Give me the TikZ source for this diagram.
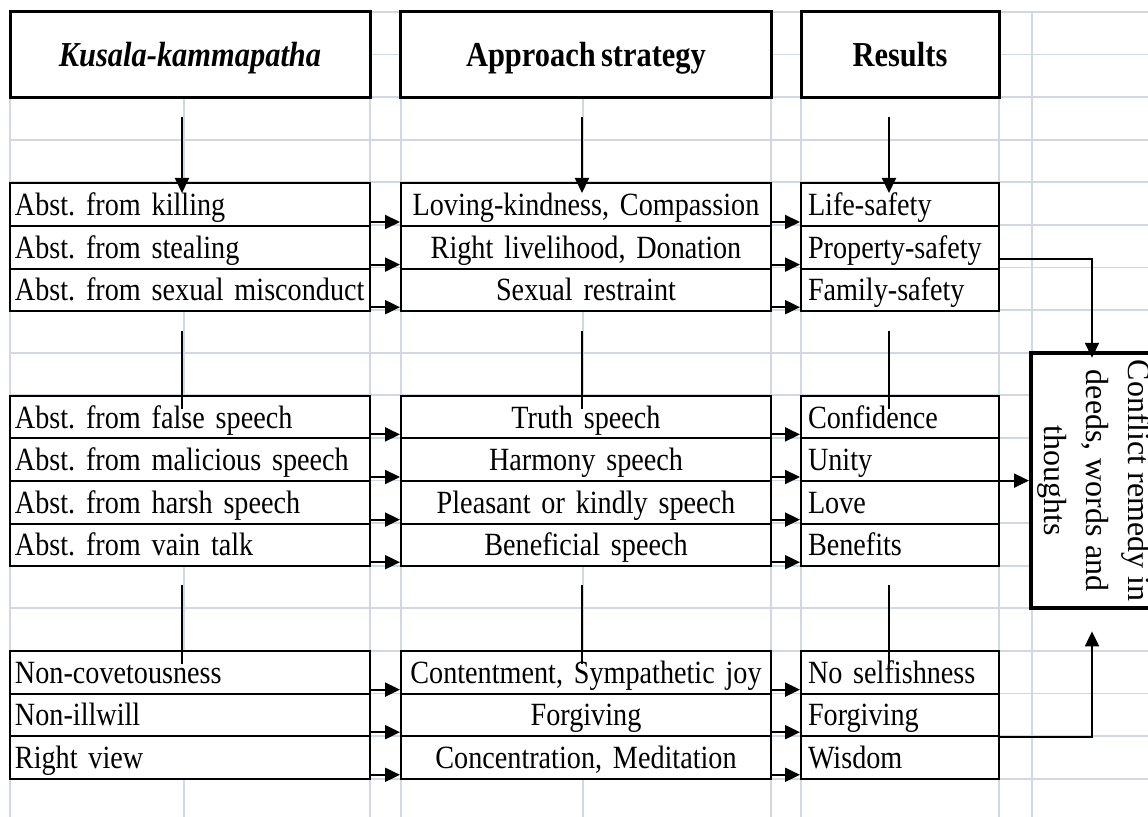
\documentclass[tikz,border=0pt]{standalone}
\usepackage{fontspec}
\setmainfont{Liberation Serif}[FakeStretch=0.87, WordSpace=0.7]
\newfontfamily\remfont{Liberation Serif}
\frenchspacing
\usetikzlibrary{arrows.meta}
\definecolor{gridblue}{HTML}{D0D7E5}

\tikzset{
  gridline/.style={gridblue, line width=0.9pt},
  headbox/.style={draw, fill=white, line width=1.5pt, minimum height=42.6pt, inner sep=0pt, text height=11.6pt, text depth=0pt, font=\fontsize{17.5pt}{21pt}\selectfont\bfseries},
  cell/.style={draw, fill=white, line width=1pt, minimum height=21.3pt, inner xsep=2.5pt, inner ysep=0pt, text height=11pt, text depth=0pt, font=\fontsize{16.2pt}{19pt}\selectfont},
  kcell/.style={cell, text width=175pt, align=left},
  acell/.style={cell, text width=180pt, align=center},
  rcell/.style={cell, inner xsep=3.5pt, text width=92pt, align=left},
  arr/.style={-{Triangle[length=7.5pt,width=7pt]}, line width=1pt},
  link/.style={line width=0.9pt},
}

\begin{document}
\begin{tikzpicture}[x=0.5pt, y=-0.5pt]
\useasboundingbox (0,0) rectangle (1148,817);
\clip (0,0) rectangle (1148,817);

%sheet rows
\draw[gridline] (10,12) -- (1148,12);
\draw[gridline] (10,54.6) -- (1148,54.6);
\draw[gridline] (10,97.2) -- (1148,97.2);
\draw[gridline] (10,139.8) -- (1148,139.8);
\draw[gridline] (10,182.4) -- (1148,182.4);
\draw[gridline] (10,225) -- (1148,225);
\draw[gridline] (10,267.6) -- (1148,267.6);
\draw[gridline] (10,310.2) -- (1148,310.2);
\draw[gridline] (10,352.8) -- (1148,352.8);
\draw[gridline] (10,395.4) -- (1148,395.4);
\draw[gridline] (10,438) -- (1148,438);
\draw[gridline] (10,480.6) -- (1148,480.6);
\draw[gridline] (10,523.2) -- (1148,523.2);
\draw[gridline] (10,565.8) -- (1148,565.8);
\draw[gridline] (10,608.4) -- (1148,608.4);
\draw[gridline] (10,651) -- (1148,651);
\draw[gridline] (10,693.6) -- (1148,693.6);
\draw[gridline] (10,736.2) -- (1148,736.2);
\draw[gridline] (10,778.8) -- (1148,778.8);

%sheet columns
\draw[gridline] (10,12) -- (10,817);
\draw[gridline] (184,12) -- (184,817);
\draw[gridline] (370,12) -- (370,817);
\draw[gridline] (401,12) -- (401,817);
\draw[gridline] (583,12) -- (583,817);
\draw[gridline] (771,12) -- (771,817);
\draw[gridline] (801,12) -- (801,817);
\draw[gridline] (999,12) -- (999,817);
\draw[gridline] (1032,12) -- (1032,817);

%headers
\node[headbox, minimum width=180pt] (hk) at (190,54.6) {\itshape Kusala-kammapatha};
\node[headbox, minimum width=185.5pt] (ha) at (586,54.6) {Approach strategy};
\node[headbox, minimum width=99pt] (hr) at (900,54.6) {Results};

%first group
\node[kcell] (kk1) at (190,204.7) {Abst. from killing};
\node[kcell] (kk2) at (190,247.3) {Abst. from stealing};
\node[kcell] (kk3) at (190,289.9) {Abst. from sexual misconduct};
\node[acell] (as1) at (586,204.7) {Loving-kindness, Compassion};
\node[acell] (as2) at (586,247.3) {Right livelihood, Donation};
\node[acell] (as3) at (586,289.9) {Sexual restraint};
\node[rcell] (rs1) at (900,204.7) {Life-safety};
\node[rcell] (rs2) at (900,247.3) {Property-safety};
\node[rcell] (rs3) at (900,289.9) {Family-safety};

%second group
\node[kcell] (kk4) at (190,417.1) {Abst. from false speech};
\node[kcell] (kk5) at (190,459.7) {Abst. from malicious speech};
\node[kcell] (kk6) at (190,502.3) {Abst. from harsh speech};
\node[kcell] (kk7) at (190,544.9) {Abst. from vain talk};
\node[acell] (as4) at (586,417.1) {Truth speech};
\node[acell] (as5) at (586,459.7) {Harmony speech};
\node[acell] (as6) at (586,502.3) {Pleasant or kindly speech};
\node[acell] (as7) at (586,544.9) {Beneficial speech};
\node[rcell] (rs4) at (900,417.1) {Confidence};
\node[rcell] (rs5) at (900,459.7) {Unity};
\node[rcell] (rs6) at (900,502.3) {Love};
\node[rcell] (rs7) at (900,544.9) {Benefits};

%third group
\node[kcell] (kk8) at (190,672.3) {Non-covetousness};
\node[kcell] (kk9) at (190,714.9) {Non-illwill};
\node[kcell] (kk10) at (190,757.5) {Right view};
\node[acell] (as8) at (586,672.3) {Contentment, Sympathetic joy};
\node[acell] (as9) at (586,714.9) {Forgiving};
\node[acell] (as10) at (586,757.5) {Concentration, Meditation};
\node[rcell] (rs8) at (900,672.3) {No selfishness};
\node[rcell] (rs9) at (900,714.9) {Forgiving};
\node[rcell] (rs10) at (900,757.5) {Wisdom};

%remedy box
\node[draw, fill=white, line width=2pt, minimum width=63pt, minimum height=127.8pt, inner sep=0pt] (rem) at (1094,480.6) {};
\node[rotate=-90, align=center, font=\remfont\fontsize{16pt}{21pt}\selectfont] (remtext) at (rem.center) {Conflict remedy in\\deeds, words and\\thoughts};

%down from headers
\draw[arr] ([xshift=-4pt,yshift=-9pt]hk.south) -- ([xshift=-4pt,yshift=-5.3pt]kk1.north);
\draw[arr] ([xshift=-2pt,yshift=-9pt]ha.south) -- ([xshift=-2pt,yshift=-5.3pt]as1.north);
\draw[arr] ([xshift=-5.5pt,yshift=-9pt]hr.south) -- ([xshift=-5.5pt,yshift=-5.3pt]rs1.north);

%between groups
\draw[link] ([xshift=-4pt,yshift=-9.5pt]kk3.south) -- ([xshift=-4pt,yshift=-7.3pt]kk4.north);
\draw[link] ([xshift=-2pt,yshift=-9.5pt]as3.south) -- ([xshift=-2pt,yshift=-7.3pt]as4.north);
\draw[link] ([xshift=-5.5pt,yshift=-9.5pt]rs3.south) -- ([xshift=-5.5pt,yshift=-7.3pt]rs4.north);
\draw[link] ([xshift=-4pt,yshift=-9pt]kk7.south) -- ([xshift=-4pt,yshift=-7pt]kk8.north);
\draw[link] ([xshift=-2pt,yshift=-9pt]as7.south) -- ([xshift=-2pt,yshift=-7pt]as8.north);
\draw[link] ([xshift=-5.5pt,yshift=-9pt]rs7.south) -- ([xshift=-5.5pt,yshift=-7pt]rs8.north);

%kammapatha to strategy
\draw[arr] ([yshift=2.5pt]kk1.south east) -- ([yshift=2.5pt]as1.south west);
\draw[arr] ([yshift=2.5pt]kk2.south east) -- ([yshift=2.5pt]as2.south west);
\draw[arr] ([yshift=2.5pt]kk3.south east) -- ([yshift=2.5pt]as3.south west);
\draw[arr] ([yshift=2.5pt]kk4.south east) -- ([yshift=2.5pt]as4.south west);
\draw[arr] ([yshift=2.5pt]kk5.south east) -- ([yshift=2.5pt]as5.south west);
\draw[arr] ([yshift=2.5pt]kk6.south east) -- ([yshift=2.5pt]as6.south west);
\draw[arr] ([yshift=2.5pt]kk7.south east) -- ([yshift=2.5pt]as7.south west);
\draw[arr] ([yshift=2.5pt]kk8.south east) -- ([yshift=2.5pt]as8.south west);
\draw[arr] ([yshift=2.5pt]kk9.south east) -- ([yshift=2.5pt]as9.south west);
\draw[arr] ([yshift=2.5pt]kk10.south east) -- ([yshift=2.5pt]as10.south west);

%strategy to results
\draw[arr] ([yshift=2.5pt]as1.south east) -- ([yshift=2.5pt]rs1.south west);
\draw[arr] ([yshift=2.5pt]as2.south east) -- ([yshift=2.5pt]rs2.south west);
\draw[arr] ([yshift=2.5pt]as3.south east) -- ([yshift=2.5pt]rs3.south west);
\draw[arr] ([yshift=2.5pt]as4.south east) -- ([yshift=2.5pt]rs4.south west);
\draw[arr] ([yshift=2.5pt]as5.south east) -- ([yshift=2.5pt]rs5.south west);
\draw[arr] ([yshift=2.5pt]as6.south east) -- ([yshift=2.5pt]rs6.south west);
\draw[arr] ([yshift=2.5pt]as7.south east) -- ([yshift=2.5pt]rs7.south west);
\draw[arr] ([yshift=2.5pt]as8.south east) -- ([yshift=2.5pt]rs8.south west);
\draw[arr] ([yshift=2.5pt]as9.south east) -- ([yshift=2.5pt]rs9.south west);
\draw[arr] ([yshift=2.5pt]as10.south east) -- ([yshift=2.5pt]rs10.south west);

%results to remedy
\draw[arr] ([yshift=5.5pt]rs2.south east) -| ([xshift=-1pt,yshift=-3.5pt]rem.north);
\draw[arr] (rs5.east |- rem.west) -- (rem.west);
\draw[arr] (rs9.south east) -| ([xshift=-1pt,yshift=-10.5pt]rem.south);

\end{tikzpicture}
\end{document}
